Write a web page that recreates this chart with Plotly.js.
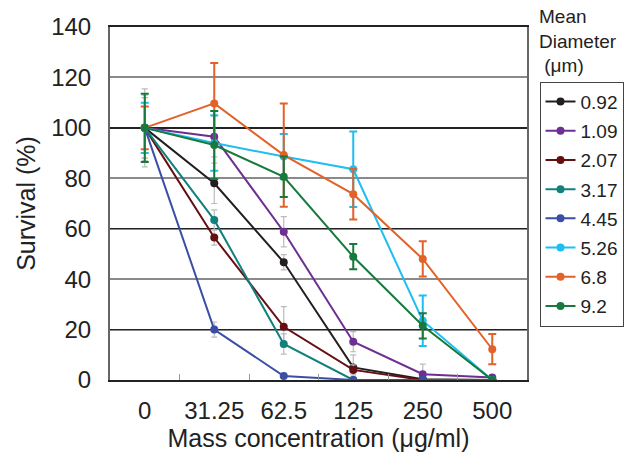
<!DOCTYPE html>
<html><head><meta charset="utf-8">
<script src="https://cdn.plot.ly/plotly-3.0.1.min.js"></script>
<style>html,body{margin:0;padding:0;background:#fff}</style>
</head><body><div id="chart" style="width:635px;height:459px"></div>
<script>
const categories = ["0","31.25","62.5","125","250","500"];
const seriesNames = ["0.92","1.09","2.07","3.17","4.45","5.26","6.8","9.2"];
const colors = ["#231f20","#6e2f92","#650f12","#12807c","#3a4ea5","#1fbef0","#e2622a","#17793d"];
const errColors = ["#bbbbbb","#bbbbbb","#bbbbbb","#bbbbbb","#bbbbbb","#1fbef0","#e2622a","#17793d"];
const v092 = [100, 78, 46.7, 5.0, 0.3, 0];
const v109 = [100, 96.5, 58.8, 15.2, 2.3, 1.0];
const v207 = [100, 56.5, 21.1, 4.0, 0, 0];
const v317 = [100, 63.5, 14.3, 0, 0, 0];
const v445 = [100, 20, 1.6, 0, 0, 0];
const v526 = [100, 94, 88.6, 83.6, 23.5, 0];
const v68  = [100, 109.7, 89.2, 73.7, 48, 12.2];
const v92  = [100, 93.2, 80.6, 48.9, 21.5, 0];
const e092 = [15.5, 8, 3, 5, 0, 0];
const e109 = [10, 8, 6, 4, 4, 1];
const e207 = [12, 3, 8, 2, 0, 0];
const e317 = [13, 4, 4, 0, 0, 0];
const e445 = [12, 3, 1, 0, 0, 0];
const e526 = [10, 11, 9, 15, 10, 0];
const e68  = [8.5, 16, 20.5, 10, 7, 6];
const e92  = [13.5, 13.5, 8, 5, 5, 0];
const values = [v092,v109,v207,v317,v445,v526,v68,v92];
const errors = [e092,e109,e207,e317,e445,e526,e68,e92];

const traces = seriesNames.map((n,i)=>({
  type:"scatter", mode:"lines+markers", name:n, x:categories, y:values[i],
  line:{color:colors[i], width:2}, marker:{color:colors[i], size:8},
  error_y:{type:"data", array:errors[i], visible:true, color:errColors[i], thickness:i>=5?2:1.2, width:i>=5?4:3},
  legendgroup:"g"+i
}));
traces.push({type:"scatter", x:categories, y:v092, yaxis:"y2", mode:"none", showlegend:false, hoverinfo:"skip"});

const layout = {
  width:635, height:459,
  margin:{l:110, r:99, t:27, b:79},
  paper_bgcolor:"#fff", plot_bgcolor:"#fff",
  font:{family:"Liberation Sans, Arial, sans-serif", color:"#222"},
  showlegend:true,
  legend:{x:1.03, xanchor:"left", y:0.845, yanchor:"top", bordercolor:"#444", borderwidth:1,
    font:{size:19, color:"#222"}, tracegroupgap:1.5, itemwidth:30},
  xaxis:{type:"category", range:[-0.5,5.5], showgrid:false, showline:true, linecolor:"#222", linewidth:2, mirror:true,
    ticks:"inside", tickson:"boundaries", ticklen:6, tickcolor:"#999", ticklabelstandoff:8,
    tickfont:{size:24}, title:{text:"Mass concentration (μg/ml)", font:{size:25}, standoff:5}},
  yaxis:{range:[0,140], dtick:20, showgrid:true, gridcolor:"#8a8a8a", gridwidth:2, zeroline:false,
    showline:true, linecolor:"#666", linewidth:2, mirror:true, ticks:"", tickfont:{size:24}, ticklabelstandoff:12,
    title:{text:"Survival (%)", font:{size:25}, standoff:8}},
  yaxis2:{overlaying:"y", range:[0,140], tick0:20, dtick:40, showgrid:true, gridcolor:"#222", gridwidth:1.5,
    showticklabels:false, zeroline:false, showline:false},
  annotations:[{xref:"paper", yref:"paper", x:1.024, y:1.066, xanchor:"left", yanchor:"top", align:"left",
    showarrow:false, text:"Mean<br>Diameter<br> (μm)", font:{size:19, color:"#222"}}]
};
Plotly.newPlot("chart", traces, layout, {displayModeBar:false, staticPlot:true});
</script></body></html>
